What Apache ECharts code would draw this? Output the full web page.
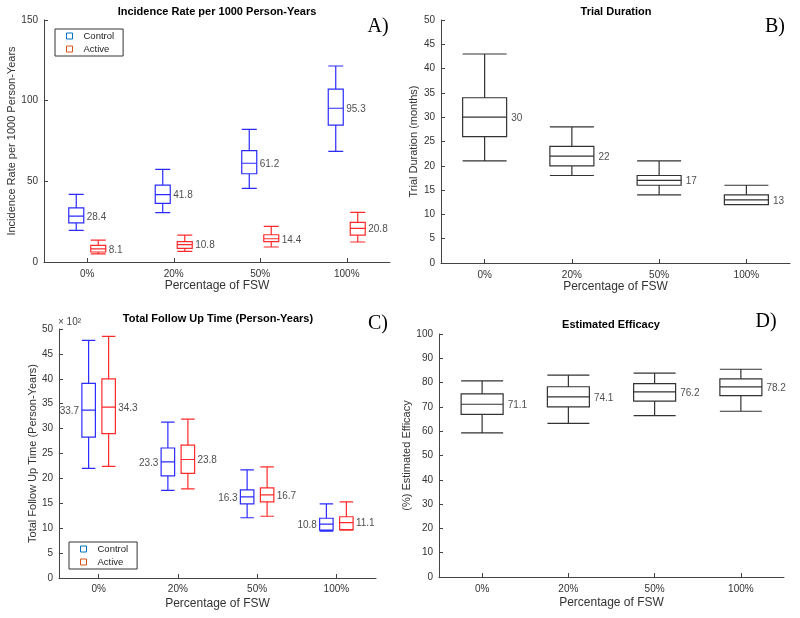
<!DOCTYPE html>
<html><head><meta charset="utf-8">
<script src="https://cdn.jsdelivr.net/npm/echarts@6/dist/echarts.min.js"></script>
<style>html,body{margin:0;padding:0;background:#fff}#c{width:800px;height:618px}</style>
</head><body><div id="c"></div>
<script>
// ---- data ----
const categories = ['0%', '20%', '50%', '100%'];

// A) Incidence rate per 1000 person-years
const incControlMin = [19.6, 30.6, 45.6, 68.6];
const incControlQ1  = [24.2, 36.3, 54.7, 84.9];
const incControlMed = [28.4, 41.8, 61.2, 95.3];
const incControlQ3  = [33.5, 47.7, 69.0, 107.2];
const incControlMax = [41.9, 57.4, 82.2, 121.5];
const incActiveMin = [5.0, 6.6, 9.3, 12.4];
const incActiveQ1  = [6.2, 8.4, 12.6, 16.7];
const incActiveMed = [8.1, 10.8, 14.4, 20.8];
const incActiveQ3  = [10.3, 12.6, 16.9, 24.6];
const incActiveMax = [13.6, 16.7, 22.1, 30.8];

// B) Trial duration (months)
const durMin = [21, 18, 14, 12];
const durQ1  = [26, 20, 16, 12];
const durMed = [30, 22, 17, 13];
const durQ3  = [34, 24, 18, 14];
const durMax = [43, 28, 21, 16];

// C) Total follow up time (x 10^2 person-years)
const fuControlMin = [22.0, 17.6, 12.1, 9.4];
const fuControlQ1  = [28.3, 20.5, 14.9, 9.6];
const fuControlMed = [33.7, 23.3, 16.3, 10.8];
const fuControlQ3  = [39.1, 26.1, 17.7, 12.0];
const fuControlMax = [47.7, 31.3, 21.7, 14.9];
const fuActiveMin = [22.4, 17.9, 12.4, 9.6];
const fuActiveQ1  = [29.0, 21.0, 15.3, 9.7];
const fuActiveMed = [34.3, 23.8, 16.7, 11.1];
const fuActiveQ3  = [40.0, 26.7, 18.1, 12.3];
const fuActiveMax = [48.5, 31.9, 22.3, 15.3];

// D) Estimated efficacy (%)
const effMin = [59.3, 63.2, 66.4, 68.2];
const effQ1  = [66.9, 70.0, 72.4, 74.6];
const effMed = [71.1, 74.1, 76.2, 78.2];
const effQ3  = [75.4, 78.3, 79.6, 81.5];
const effMax = [80.7, 83.1, 83.9, 85.5];

// ---- helpers ----
const FONT = '"Liberation Sans", Arial, Helvetica, sans-serif';
const AXC = '#444';
const TXC = '#333';
const BLUE = '#2b2bff';
const RED = '#ff2b2b';
const DARK = '#333';

function box(mn, q1, md, q3, mx) {
  return categories.map((c, i) => [mn[i], q1[i], md[i], q3[i], mx[i]]);
}
function medPts(md) { return categories.map((c, i) => [i, md[i]]); }

const grids = [
  {left: 44, top: 20, width: 346, height: 242},   // 0 A main
  {left: 33, top: 20, width: 346, height: 242},   // 1 A control
  {left: 55, top: 20, width: 346, height: 242},   // 2 A active
  {left: 441, top: 20, width: 349, height: 243},  // 3 B
  {left: 59, top: 329, width: 317, height: 249},  // 4 C main
  {left: 49, top: 329, width: 317, height: 249},  // 5 C control
  {left: 69, top: 329, width: 317, height: 249},  // 6 C active
  {left: 439, top: 334, width: 345, height: 243}  // 7 D
];

function mainX(g, nameGap, margin) {
  return {
    type: 'category', gridIndex: g, data: categories, boundaryGap: true,
    axisLine: {show: true, lineStyle: {color: AXC, width: 1}},
    axisTick: {show: true, inside: true, length: 4, alignWithLabel: true, lineStyle: {color: AXC}},
    axisLabel: {fontSize: 10, color: TXC, fontFamily: FONT, margin: margin},
    splitLine: {show: false},
    name: 'Percentage of FSW', nameLocation: 'middle', nameGap: nameGap,
    nameTextStyle: {fontSize: 12, color: TXC, fontFamily: FONT}
  };
}
function hiddenX(g) {
  return {type: 'category', gridIndex: g, data: categories, boundaryGap: true, show: false};
}
function mainY(g, min, max, interval, name, nameGap) {
  return {
    type: 'value', gridIndex: g, min: min, max: max, interval: interval,
    axisLine: {show: true, lineStyle: {color: AXC, width: 1}},
    axisTick: {show: true, inside: true, length: 4, lineStyle: {color: AXC}},
    axisLabel: {fontSize: 10, color: TXC, fontFamily: FONT, margin: 6},
    splitLine: {show: false},
    name: name, nameLocation: 'middle', nameGap: nameGap,
    nameTextStyle: {fontSize: 11, color: TXC, fontFamily: FONT}
  };
}
function hiddenY(g, min, max, interval) {
  return {type: 'value', gridIndex: g, min: min, max: max, interval: interval, show: false};
}

function boxSeries(name, axis, data, color, width) {
  return {
    type: 'boxplot', name: name, xAxisIndex: axis, yAxisIndex: axis,
    data: data, boxWidth: [width, width],
    itemStyle: {color: 'rgba(0,0,0,0)', borderColor: color, borderWidth: 1.2},
    emphasis: {disabled: true}, silent: true, z: 3
  };
}
function labelSeries(axis, md, side, dist, digits) {
  return {
    type: 'scatter', name: 'lbl' + axis + side, xAxisIndex: axis, yAxisIndex: axis,
    data: medPts(md), symbolSize: 1, itemStyle: {color: 'rgba(0,0,0,0)'},
    silent: true, z: 4,
    label: {
      show: true, position: side, distance: dist, offset: [0, 1],
      fontSize: 10, color: '#222', fontFamily: FONT,
      formatter: p => p.value[1].toFixed(digits)
    }
  };
}

function legendCfg(left, top) {
  return {
    left: left, top: top, orient: 'vertical',
    backgroundColor: '#fff', borderColor: '#333', borderWidth: 1,
    padding: [2, 9, 2, 11], itemGap: 3, itemWidth: 6, itemHeight: 6,
    selectedMode: false,
    textStyle: {fontSize: 9.5, color: '#222', fontFamily: FONT, lineHeight: 10, padding: [0, 0, 0, 6]},
    data: [
      {name: 'Control', icon: 'rect', itemStyle: {color: 'rgba(0,0,0,0)', borderColor: '#0072BD', borderWidth: 1}},
      {name: 'Active', icon: 'rect', itemStyle: {color: 'rgba(0,0,0,0)', borderColor: '#D95319', borderWidth: 1}}
    ]
  };
}

function txt(x, y, text, font, align) {
  return {type: 'text', x: x, y: y, silent: true,
    style: {text: text, font: font, fill: '#000', align: align || 'center', verticalAlign: 'middle'}};
}

const option = {
  animation: false,
  backgroundColor: '#fff',
  grid: grids,
  xAxis: [
    mainX(0, 17, 7), hiddenX(1), hiddenX(2),
    mainX(3, 16, 7),
    mainX(4, 20, 6), hiddenX(5), hiddenX(6),
    mainX(7, 20, 7)
  ],
  yAxis: [
    mainY(0, 0, 150, 50, 'Incidence Rate per 1000 Person-Years', 26), hiddenY(1, 0, 150, 50), hiddenY(2, 0, 150, 50),
    mainY(3, 0, 50, 5, 'Trial Duration (months)', 22),
    mainY(4, 0, 50, 5, 'Total Follow Up Time (Person-Years)', 20), hiddenY(5, 0, 50, 5), hiddenY(6, 0, 50, 5),
    mainY(7, 0, 100, 10, '(%) Estimated Efficacy', 27)
  ],
  legend: [legendCfg(55, 29), legendCfg(69, 542)],
  series: [
    boxSeries('Control', 1, box(incControlMin, incControlQ1, incControlMed, incControlQ3, incControlMax), BLUE, 15),
    boxSeries('Active', 2, box(incActiveMin, incActiveQ1, incActiveMed, incActiveQ3, incActiveMax), RED, 15),
    labelSeries(1, incControlMed, 'right', 10, 1),
    labelSeries(2, incActiveMed, 'right', 10, 1),

    boxSeries('Duration', 3, box(durMin, durQ1, durMed, durQ3, durMax), DARK, 44),
    labelSeries(3, durMed, 'right', 26, 0),

    boxSeries('Control', 5, box(fuControlMin, fuControlQ1, fuControlMed, fuControlQ3, fuControlMax), BLUE, 13.5),
    boxSeries('Active', 6, box(fuActiveMin, fuActiveQ1, fuActiveMed, fuActiveQ3, fuActiveMax), RED, 13.5),
    labelSeries(5, fuControlMed, 'left', 9, 1),
    labelSeries(6, fuActiveMed, 'right', 9, 1),

    boxSeries('Efficacy', 7, box(effMin, effQ1, effMed, effQ3, effMax), DARK, 42),
    labelSeries(7, effMed, 'right', 25, 1)
  ],
  graphic: [
    txt(217, 12, 'Incidence Rate per 1000 Person-Years', 'bold 11px ' + FONT),
    txt(616, 12, 'Trial Duration', 'bold 11px ' + FONT),
    txt(218, 319, 'Total Follow Up Time (Person-Years)', 'bold 11px ' + FONT),
    txt(611, 325, 'Estimated Efficacy', 'bold 11px ' + FONT),
    txt(378, 27, 'A)', '20px "Liberation Serif", "Times New Roman", serif'),
    txt(775, 27, 'B)', '20px "Liberation Serif", "Times New Roman", serif'),
    txt(378, 324, 'C)', '20px "Liberation Serif", "Times New Roman", serif'),
    txt(766, 322, 'D)', '20px "Liberation Serif", "Times New Roman", serif'),
    {type: 'text', x: 58, y: 322, silent: true,
     style: {text: '× 10²', font: '10px ' + FONT, fill: '#444', align: 'left', verticalAlign: 'middle'}}
  ]
};

const chart = echarts.init(document.getElementById('c'), null, {renderer: 'canvas'});
chart.setOption(option);
</script>
</body></html>
